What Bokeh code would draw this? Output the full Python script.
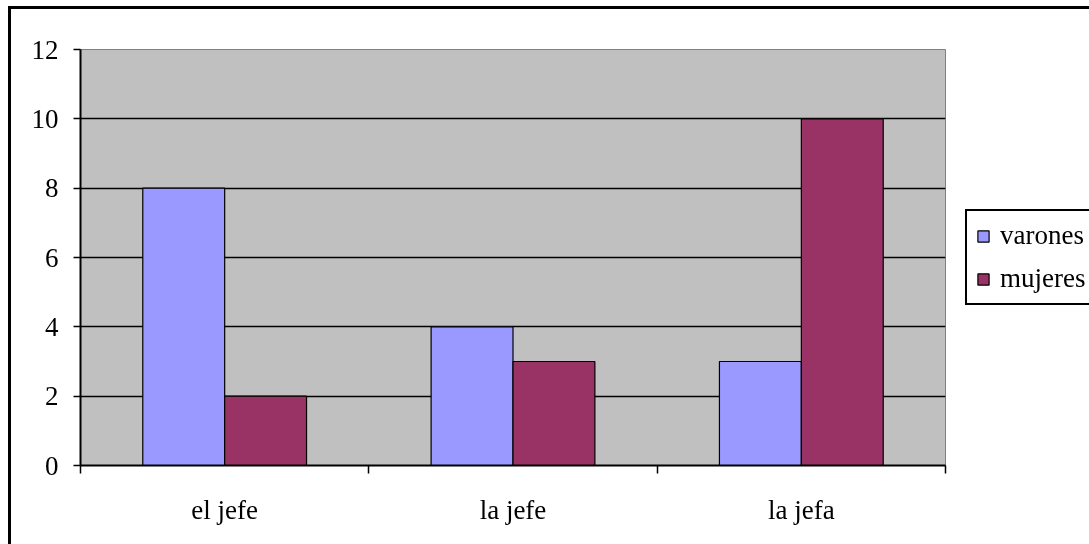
from bokeh.plotting import figure
from bokeh.models import Range1d, FixedTicker, ColumnDataSource, Legend, LegendItem
from bokeh.transform import dodge
from bokeh.embed import file_html
from bokeh.resources import INLINE

categories = ["el jefe", "la jefe", "la jefa"]
varones = [8, 4, 3]
mujeres = [2, 3, 10]
y_ticks = [0, 2, 4, 6, 8, 10, 12]

xc = [i + 0.5 for i in range(len(categories))]
src = ColumnDataSource(dict(x=xc, varones=varones, mujeres=mujeres))

FONT = "Times"
LFONT = "serif"

p = figure(frame_width=865, frame_height=416, output_backend="svg", toolbar_location=None,
           x_range=Range1d(0, 3), y_range=Range1d(0, 12),
           min_border_left=69, min_border_right=144, min_border_top=40, min_border_bottom=79)
p.styles = {"border-left": "3px solid black", "border-top": "3px solid black",
            "position": "fixed", "left": "8px", "top": "6px"}
p.background_fill_color = "#C0C0C0"
p.border_fill_color = "white"
p.outline_line_color = "#808080"
p.outline_line_width = 1

bw = 0.284
r1 = p.vbar(x=dodge("x", -bw / 2), top="varones", width=bw, source=src,
            fill_color="#9999FF", line_color="black", line_width=1.2)
r2 = p.vbar(x=dodge("x", bw / 2), top="mujeres", width=bw, source=src,
            fill_color="#993366", line_color="black", line_width=1.2)

p.xgrid.visible = False
p.ygrid.ticker = FixedTicker(ticks=y_ticks)
p.ygrid.grid_line_color = "black"
p.ygrid.grid_line_width = 1.5

xa = p.xaxis[0]
xa.ticker = FixedTicker(ticks=xc, minor_ticks=[0, 1, 2, 3])
xa.major_label_overrides = {v: c for v, c in zip(xc, categories)}
xa.major_tick_out = 0
xa.major_tick_in = 0
xa.minor_tick_out = 8
xa.minor_tick_in = 0
xa.minor_tick_line_color = "black"
xa.minor_tick_line_width = 1.5
xa.axis_line_color = "black"
xa.axis_line_width = 2
xa.major_label_standoff = 21
xa.major_label_text_font = FONT
xa.major_label_text_font_size = "27px"
xa.major_label_text_color = "black"

ya = p.yaxis[0]
ya.ticker = FixedTicker(ticks=y_ticks)
ya.minor_tick_line_color = None
ya.major_tick_out = 7
ya.major_tick_in = 0
ya.major_tick_line_color = "black"
ya.major_tick_line_width = 1.5
ya.axis_line_color = "black"
ya.axis_line_width = 2
ya.major_label_standoff = 15
ya.major_label_text_font = FONT
ya.major_label_text_font_size = "27px"
ya.major_label_text_color = "black"

legend = Legend(items=[LegendItem(label="varones", renderers=[r1]),
                       LegendItem(label="mujeres", renderers=[r2])],
                location="left")
legend.border_line_color = "black"
legend.border_line_alpha = 1
legend.border_line_width = 2
legend.background_fill_color = "white"
legend.background_fill_alpha = 1
legend.label_text_font = LFONT
legend.label_text_font_size = "27px"
legend.label_text_color = "black"
legend.glyph_width = 14
legend.glyph_height = 14
legend.label_height = 28
legend.spacing = 12
legend.padding = 9
legend.margin = 20
legend.label_standoff = 10
p.add_layout(legend, "right")

open("out.html", "w").write(file_html(p, INLINE))
